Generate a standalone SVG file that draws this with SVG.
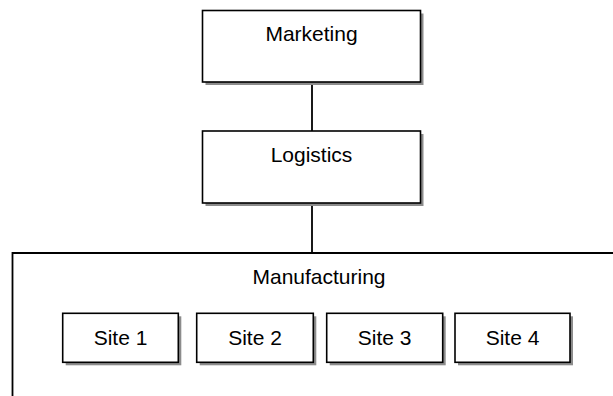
<svg xmlns="http://www.w3.org/2000/svg" width="613" height="396" viewBox="0 0 613 396">
<style>
.box{fill:#fff;stroke:#000;stroke-width:1.6}
.sh{fill:#8c8c8c}
.ln{fill:none;stroke:#000;stroke-width:1.8}
text{font-family:"Liberation Sans",Arial,sans-serif;font-size:21px;fill:#000;text-anchor:middle}
</style>
<rect width="613" height="396" fill="#fff"/>
<g id="connectors">
<line class="ln" x1="312" y1="82" x2="312" y2="131"/>
<line class="ln" x1="312" y1="203" x2="312" y2="253"/>
</g>
<g id="manufacturing">
<path class="ln" d="M613 253 H12.5 V396"/>
<text x="319" y="284">Manufacturing</text>
</g>
<g id="marketing">
<rect class="sh" x="205.5" y="13.5" width="218" height="71.5"/>
<rect class="box" x="202.5" y="10.5" width="218" height="71.5"/>
<text x="311.5" y="41">Marketing</text>
</g>
<g id="logistics">
<rect class="sh" x="205.5" y="134" width="218" height="72"/>
<rect class="box" x="202.5" y="131" width="218" height="72"/>
<text x="311.5" y="161.5">Logistics</text>
</g>
<g id="site1">
<rect class="sh" x="65.7" y="316.3" width="115.6" height="49"/>
<rect class="box" x="62.7" y="313.3" width="115.6" height="49"/>
<text x="120.5" y="345">Site 1</text>
</g>
<g id="site2">
<rect class="sh" x="199.7" y="316.3" width="116.6" height="49"/>
<rect class="box" x="196.7" y="313.3" width="116.6" height="49"/>
<text x="255" y="345">Site 2</text>
</g>
<g id="site3">
<rect class="sh" x="329.7" y="316.3" width="116" height="49"/>
<rect class="box" x="326.7" y="313.3" width="116" height="49"/>
<text x="384.7" y="345">Site 3</text>
</g>
<g id="site4">
<rect class="sh" x="458" y="316.3" width="115" height="49"/>
<rect class="box" x="455" y="313.3" width="115" height="49"/>
<text x="512.5" y="345">Site 4</text>
</g>
</svg>
